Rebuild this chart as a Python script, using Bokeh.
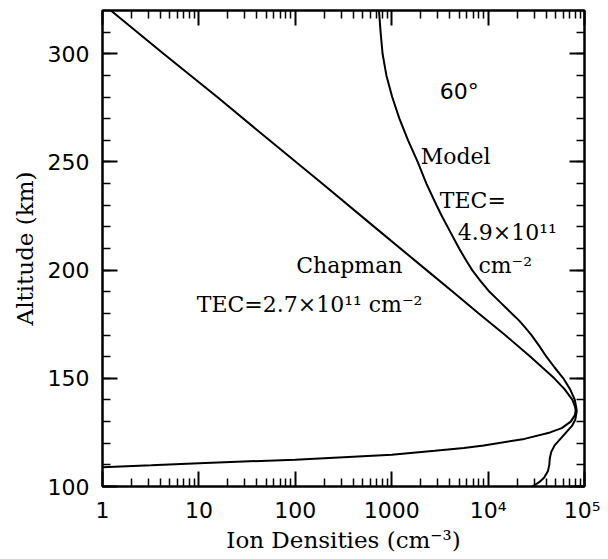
from bokeh.plotting import figure
from bokeh.models import (LogAxis, LinearAxis, FixedTicker, SingleIntervalTicker,
                          Label, Range1d, CustomJSTickFormatter)
from bokeh.embed import file_html
from bokeh.resources import INLINE

# ---- data ----
chapman_alt = [320, 300, 280, 260, 240, 220, 200, 190, 180, 170, 160, 150, 145,
               140, 137, 135, 133, 130, 127, 125, 122, 119, 117.8, 116.5, 114.7,
               112.4, 110.8, 109.8, 108.9]
chapman_den = [1.22, 4.3, 15.5, 54, 190, 660, 2300, 4300, 8000, 15000, 27500,
               48600, 62000, 75000, 79500, 81000, 79500, 72000, 58000, 44000,
               23800, 9000, 5600, 2800, 1000, 100, 10, 3.2, 1.0]

model_alt = [320, 310, 300, 290, 280, 270, 260, 250, 240, 230, 225, 220, 215,
             210, 205, 200, 195, 190, 185, 180, 177, 174, 170, 165, 160, 155,
             150, 145, 140, 135, 131, 128, 125, 122, 119, 116, 113, 110, 107,
             104, 102, 100]
model_den = [738, 767, 804, 881, 1012, 1202, 1479, 1860, 2291, 2917, 3311,
             3802, 4365, 5012, 5821, 6839, 8318, 10350, 13490, 17580, 20650,
             23710, 28180, 33880, 40270, 48980, 60260, 70790, 79430, 83180,
             80350, 74130, 64570, 56230, 48980, 45190, 43650, 43150, 41690,
             38020, 33880, 28840]

x_major = [1, 10, 100, 1000, 10000, 100000]
x_minor = [m * 10 ** d for d in range(5) for m in range(2, 10)]
x_tick_labels = ["1", "10", "100", "1000", "10⁴", "10⁵"]

SERIF = "DejaVu Serif"
SANS = "DejaVu Sans"

p = figure(width=600, height=555, x_axis_type="log",
           x_range=Range1d(1, 1e5), y_range=Range1d(100, 320),
           output_backend="svg", toolbar_location=None,
           min_border_left=102, min_border_right=16, min_border_top=10,
           min_border_bottom=64)
p.grid.visible = False
p.outline_line_color = "black"
p.outline_line_width = 2
p.background_fill_color = "white"
p.border_fill_color = "white"

p.line(chapman_den, chapman_alt, line_color="black", line_width=2)
p.line(model_den, model_alt, line_color="black", line_width=2)


def style(ax, labels=True):
    ax.axis_line_color = "black"
    ax.axis_line_width = 2
    ax.major_tick_in = 15
    ax.major_tick_out = 0
    ax.minor_tick_in = 8
    ax.minor_tick_out = 0
    ax.major_tick_line_width = 2
    ax.minor_tick_line_width = 1.5
    ax.major_tick_line_color = "black"
    ax.minor_tick_line_color = "black"
    if labels:
        ax.major_label_text_font = SANS
        ax.major_label_text_font_size = "22px"
        ax.major_label_text_color = "black"
        ax.axis_label_text_font = SERIF
        ax.axis_label_text_font_size = "23px"
        ax.axis_label_text_font_style = "normal"
        ax.axis_label_text_color = "black"
    else:
        ax.major_label_text_font_size = "6px"
        ax.major_label_text_alpha = 0
        ax.major_label_standoff = 0


xa = p.xaxis[0]
xa.ticker = FixedTicker(ticks=x_major, minor_ticks=x_minor)
xa.formatter = CustomJSTickFormatter(
    args=dict(vals=x_major, labs=x_tick_labels),
    code="""
for (let i = 0; i < vals.length; i++) {
  if (Math.abs(Math.log10(tick) - Math.log10(vals[i])) < 1e-6) return labs[i];
}
return String(tick);
""")
xa.axis_label = "Ion Densities (cm⁻³)"
style(xa)
xa.major_label_standoff = 11
xa.axis_label_standoff = 1

ya = p.yaxis[0]
ya.ticker = SingleIntervalTicker(interval=50, num_minor_ticks=5)
ya.axis_label = "Altitude (km)"
style(ya)
ya.major_label_standoff = 13
ya.axis_label_standoff = 7

top = LogAxis(ticker=FixedTicker(ticks=x_major, minor_ticks=x_minor))
style(top, labels=False)
p.add_layout(top, "above")

right = LinearAxis(ticker=SingleIntervalTicker(interval=50, num_minor_ticks=5))
style(right, labels=False)
p.add_layout(right, "right")

labels = [
    ("60°", 3160, 282.5, SANS),
    ("Model", 2000, 252.3, SERIF),
    ("TEC=", 3160, 232.3, SERIF),
    ("4.9×10¹¹", 4840, 217.3, SERIF),
    ("cm⁻²", 7930, 202.0, SERIF),
    ("Chapman", 102, 202.0, SERIF),
    ("TEC=2.7×10¹¹ cm⁻²", 9.5, 184.2, SERIF),
]
for txt, lx, ly, fnt in labels:
    p.add_layout(Label(x=lx, y=ly, text=txt, text_font=fnt,
                       text_font_size="22px", text_baseline="middle",
                       text_align="left", text_color="black"))

open("out.html", "w").write(file_html(p, INLINE))
